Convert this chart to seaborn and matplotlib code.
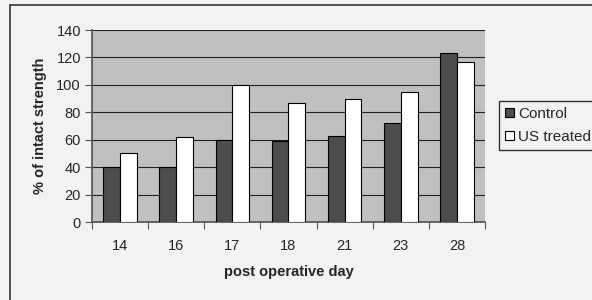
import pandas as pd
import matplotlib
matplotlib.use("Agg")
import matplotlib.pyplot as plt
import seaborn as sns
from matplotlib.patches import Rectangle

# datos
dias = ["14", "16", "17", "18", "21", "23", "28"]
control = [40, 40, 60, 59, 63, 72, 123]
us_treated = [50, 62, 100, 87, 90, 95, 117]

df = pd.DataFrame({
    "dia": dias * 2,
    "valor": control + us_treated,
    "grupo": ["Control"] * len(dias) + ["US treated"] * len(dias),
})

sns.set_theme(style="white")
plt.rcParams["font.family"] = ["Liberation Sans", "DejaVu Sans"]

fig = plt.figure(figsize=(5.92, 3.0), dpi=100)
fig.patch.set_facecolor("#f2f2f2")
ax = fig.add_axes([92 / 592, 78 / 300, 393 / 592, 192 / 300])
ax.set_facecolor("#c0c0c0")

# marco exterior del grafico
fig.patches.append(Rectangle((10 / 592, -0.1), 1.2, 1 - 5 / 300 + 0.1,
                             transform=fig.transFigure, fill=False,
                             edgecolor="#333333", linewidth=1.2))

sns.barplot(data=df, x="dia", y="valor", hue="grupo",
            palette={"Control": "#4d4d4d", "US treated": "#ffffff"},
            width=0.6, edgecolor="black", linewidth=0.8, ax=ax, zorder=3)

ax.set_ylim(0, 140)
ax.set_yticks(range(0, 141, 20))
ax.set_xlim(-0.5, 6.5)
ax.yaxis.grid(True, color="#222222", linewidth=0.8, zorder=0)
ax.set_axisbelow(True)

for s in ["top", "right"]:
    ax.spines[s].set_visible(False)
ax.spines["left"].set_color("#555555")
ax.spines["bottom"].set_color("#555555")

# ticks entre categorias
ax.set_xticks([i + 0.5 for i in range(-1, 7)], minor=True)
ax.tick_params(axis="x", which="major", length=0, pad=12, labelsize=10.5)
ax.tick_params(axis="x", which="minor", length=5, direction="out", color="#555555", width=0.8, bottom=True)
ax.tick_params(axis="y", length=5, direction="out", color="#555555", width=0.8, left=True, labelsize=10.5, pad=3)

ax.set_xlabel("post operative day", fontsize=10.5, fontweight="bold", labelpad=9)
ax.set_ylabel("% of intact strength", fontsize=10.5, fontweight="bold", labelpad=7)

ax.legend(loc="upper left", bbox_to_anchor=(499 / 592, 1 - 101 / 300),
          bbox_transform=fig.transFigure, frameon=True, fancybox=False,
          edgecolor="black", facecolor="#f2f2f2", fontsize=11,
          handlelength=0.55, handleheight=0.55, handletextpad=0.3,
          borderpad=0.4, labelspacing=0.55, borderaxespad=0)

fig.savefig("out.png", dpi=100, facecolor=fig.get_facecolor())
plt.close()
